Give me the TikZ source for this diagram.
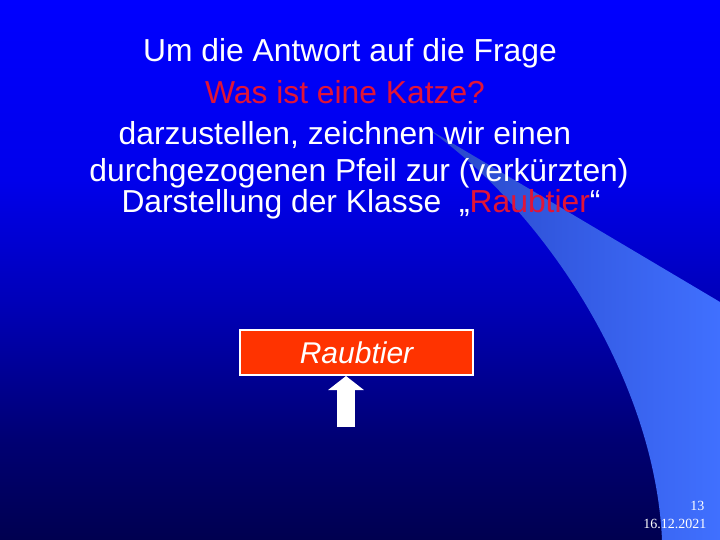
\documentclass[tikz,border=0pt]{standalone}
\usepackage{fontspec}
\setmainfont{Liberation Sans}
\newfontfamily\datefont{Liberation Serif}
\usetikzlibrary{arrows.meta}

\definecolor{bgtop}{RGB}{0,0,255}
\definecolor{bghigh}{RGB}{0,0,235}
\definecolor{bgmid}{RGB}{0,0,185}
\definecolor{bglow}{RGB}{0,0,115}
\definecolor{bgbot}{RGB}{0,0,80}
\definecolor{swdark}{RGB}{40,70,200}
\definecolor{swlight}{RGB}{64,112,255}
\definecolor{titlered}{RGB}{225,20,55}
\definecolor{boxred}{RGB}{255,51,0}

\pgfdeclareverticalshading{slidebg}{100bp}{color(0bp)=(bgbot); color(25bp)=(bgbot); color(34.3bp)=(bglow); color(47.2bp)=(bgmid); color(58.3bp)=(bghigh); color(75bp)=(bgtop); color(100bp)=(bgtop)}

\tikzset{
  textline/.style={text=white, anchor=base, font=\fontsize{31.8}{31.8}\selectfont},
  classbox/.style={draw=white, line width=2pt, fill=boxred, minimum width=233pt, minimum height=45pt, text=white, font=\fontsize{30}{30}\selectfont\itshape},
  footer/.style={anchor=base east, text=white, font=\datefont\fontsize{14}{14}\selectfont}
}

\begin{document}
\begin{tikzpicture}[x=1pt,y=-1pt]
\shade [shading=slidebg] (0,0) rectangle (720,540);
\useasboundingbox (0,0) rectangle (720,540);
\shade [left color=swdark, right color=swlight] (425,127) .. controls (545,210) and (655,380) .. (662,540) -- (720,540) -- (720,302) -- cycle;

\node (frage) at (350,62) [textline] {Um die Antwort auf die Frage};
\node (katze) at (345,104) [textline, text=titlered] {Was ist eine Katze?};
\node (zeile3) at (345,145) [textline] {darzustellen, zeichnen wir einen};
\node (zeile4) at (359,182) [textline] {durchgezogenen Pfeil zur (verkürzten)};
\node (zeile5) at (361,213) [textline] {Darstellung der Klasse\ \ „\textcolor{titlered}{Raubtier}“};

\node (raubtier) at (356.5,352.5) [classbox] {Raubtier};
\coordinate (fuss) at (346,427);
\draw [white, line width=18pt, -{Triangle[width=35pt,length=14pt]}] (fuss) -- (fuss |- raubtier.south);

\node (seite) at (708,510) [footer] {13};
\node (datum) at (710,528) [footer] {16.12.2021};
\end{tikzpicture}
\end{document}
